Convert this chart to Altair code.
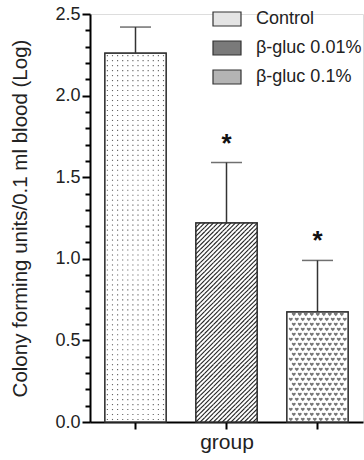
import altair as alt
import pandas as pd

groups = ["Control", "β-gluc 0.01%", "β-gluc 0.1%"]
means = [2.26, 1.22, 0.675]
errs = [0.16, 0.37, 0.315]
stars = ["", "*", "*"]
legend_fills = ["#e4e4e4", "#7a7a7a", "#b4b4b4"]
major_ticks = [0, 0.5, 1.0, 1.5, 2.0, 2.5]
minor_ticks = [0.1, 0.2, 0.3, 0.4, 0.6, 0.7, 0.8, 0.9, 1.1, 1.2, 1.3, 1.4,
               1.6, 1.7, 1.8, 1.9, 2.1, 2.2, 2.3, 2.4]

df = pd.DataFrame({"group": groups, "mean": means, "err": errs, "star": stars})
df["top"] = df["mean"] + df["err"]

FONT = "Liberation Sans"
FS = 18
W, H = 273, 408
P_IN, P_OUT = 0.325, 0.1625
STEP = W / (len(groups) - P_IN + 2 * P_OUT)
BAND = STEP * (1 - P_IN)
B0 = STEP * P_OUT
PXU = H / 2.5  # pixels per y unit, for texture spacing

group_list = "[" + ",".join("'" + g + "'" for g in groups) + "]"

band_scale = alt.Scale(paddingInner=P_IN, paddingOuter=P_OUT)

x_axis = alt.Axis(title="group", labels=False, ticks=True, tickSize=7,
                  tickWidth=2, tickColor="black", domainColor="black",
                  domainWidth=2, titleFont=FONT, titleFontSize=21,
                  titleFontWeight="normal", titleColor="#222", titlePadding=1,
                  grid=False)
xb = alt.X("group:N", sort=groups, scale=band_scale, axis=x_axis)
xn = alt.X("group:N", sort=groups, scale=band_scale, axis=None)

yscale = alt.Scale(domain=[0, 2.5], nice=False)


def yq(field):
    return alt.Y(field, scale=yscale, axis=None)


base = alt.Chart(df)

bars = base.mark_bar(stroke="#333", strokeWidth=1.2, fill="white").encode(
    x=xb,
    y=alt.Y("mean:Q", scale=yscale,
            axis=alt.Axis(title="Colony forming units/0.1 ml blood (Log)",
                          orient="left",
                          values=major_ticks, format=".1f",
                          tickSize=8, tickWidth=2, tickColor="black",
                          domainColor="black", domainWidth=2,
                          labelFont=FONT, labelFontSize=FS, labelColor="#222",
                          labelPadding=2, titleFont=FONT, titleFontSize=20.5,
                          titleFontWeight="normal", titleColor="#222",
                          titleBaseline="middle", titleX=-70, grid=False)),
)


def texture(group, step_x, step_y, ncols, x0, stagger=False):
    rows = f"sequence(0, round(datum.mean * {PXU} / {step_y}))"
    dy = f"(datum.mean * {PXU} / round(datum.mean * {PXU} / {step_y}))"
    shift = f" + (datum.row % 2) * {step_x / 2}" if stagger else ""
    c = (base.transform_filter(alt.datum.group == group)
         .transform_calculate(col=f"sequence(0, {ncols})",
                              gi=f"indexof({group_list}, datum.group)")
         .transform_flatten(["col"])
         .transform_calculate(row=rows)
         .transform_flatten(["row"])
         .transform_calculate(
             py=f"(datum.row + 0.5) * {dy} / {PXU}",
             px=f"datum.gi * {STEP} + {B0} + {x0} + datum.col * {step_x}" + shift)
         .transform_filter(f"datum.py < datum.mean")
         )
    if stagger:
        c = c.transform_filter(
            f"datum.px < datum.gi * {STEP} + {B0} + {BAND} - 2")
    return c


xpix = alt.X("px:Q", scale=alt.Scale(domain=[0, W], range=[0, W], nice=False,
                                     zero=False), axis=None)

dots = texture("Control", 5.1, 5, 12, 2.6).mark_square(
    size=1.3, color="#666", opacity=1).encode(x=xpix, y=yq("py:Q"))

hatch = texture("β-gluc 0.01%", 4.4, 4.4, 14, 2.3).mark_point(
    shape="M-1,1L1,-1", size=19.4, color="#222", strokeWidth=1.1,
    filled=False, opacity=1).encode(x=xpix, y=yq("py:Q"))

hearts = texture("β-gluc 0.1%", 6, 5, 10, 4, stagger=True).mark_point(
    shape="M0,1L-1,-0.1A0.55,0.55 0 0 1 0,-0.6A0.55,0.55 0 0 1 1,-0.1Z",
    size=14, color="#777", filled=True, opacity=1).encode(
    x=xpix, y=yq("py:Q"))

legend_layer = base.mark_square(opacity=0).encode(
    x=xn, y=yq("mean:Q"),
    color=alt.Color("group:N", sort=groups,
                    scale=alt.Scale(domain=groups, range=legend_fills),
                    legend=alt.Legend(title=None, orient="none", legendX=122,
                                      legendY=-10, symbolType="M-1,-0.5H1V0.5H-1Z",
                                      symbolSize=784, symbolStrokeColor="#333",
                                      symbolStrokeWidth=1.2, symbolOpacity=1,
                                      labelFont=FONT,
                                      labelFontSize=FS, labelColor="#222",
                                      labelOffset=14, rowPadding=4, padding=0)),
)

outline = base.mark_bar(stroke="#333", strokeWidth=1.2, fillOpacity=0).encode(
    x=xn, y=yq("mean:Q"))

err_line = base.mark_rule(color="#333", strokeWidth=1.5).encode(
    x=xn, y=yq("mean:Q"), y2="top:Q")

caps = base.mark_tick(color="#333", thickness=1.5, size=31).encode(
    x=xn, y=yq("top:Q"))

star_txt = base.mark_text(font=FONT, fontSize=26, fontWeight="bold",
                          baseline="bottom", dy=-6, color="#111").encode(
    x=xn, y=yq("top:Q"), text="star:N")

minor = alt.Chart(pd.DataFrame({"v": minor_ticks})).mark_rule(opacity=0).encode(
    y=alt.Y("v:Q", scale=yscale,
            axis=alt.Axis(title=None, orient="left", values=minor_ticks,
                          labels=False, tickSize=5, tickWidth=2,
                          tickColor="black", domain=False, grid=False)),
)

textures = alt.layer(dots, hatch, hearts)
overlay = alt.layer(outline, legend_layer, err_line, caps, star_txt)

chart = alt.layer(bars, textures, overlay, minor).resolve_scale(
    x="independent", y="independent").resolve_axis(
    x="independent", y="independent").properties(
    width=W, height=H,
    autosize="none",
    padding={"left": 90, "top": 14, "right": 1, "bottom": 38},
).configure_view(stroke=None).configure(font=FONT)

chart.save("out.html", embed_options={"renderer": "svg", "actions": False})
